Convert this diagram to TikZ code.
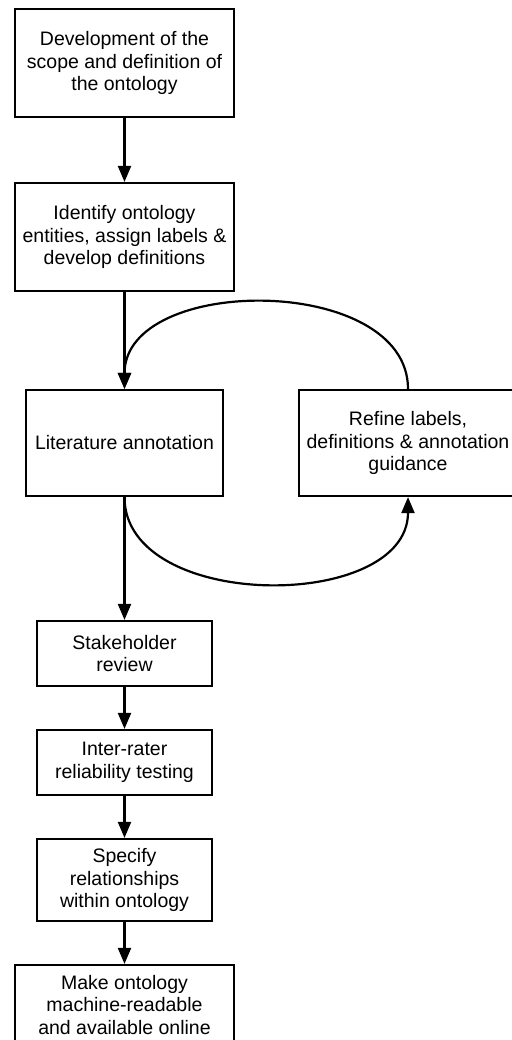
\documentclass[tikz,border=0pt]{standalone}
\usepackage{fontspec}
\setmainfont{Liberation Sans}
\usetikzlibrary{arrows.meta}
\tikzset{
	stepbox/.style={draw, line width=2.2pt, align=center, inner sep=0pt, font=\fontsize{19.5}{22.5}\selectfont},
	arr/.style={line width=2.2pt, -{Triangle[length=16pt,width=13pt]}}
}
\begin{document}
\begin{tikzpicture}[x=1pt, y=-1pt]
	\useasboundingbox (0,0) rectangle (511,1040);
	
	\coordinate (P1) at (124.5, 63);
	\coordinate (P2) at (124.5, 237);
	\coordinate (P3) at (124.5, 443);
	\coordinate (P4) at (408, 443);
	\coordinate (P5) at (124.5, 653.5);
	\coordinate (P6) at (124.5, 762.5);
	\coordinate (P7) at (124.5, 880);
	\coordinate (P8) at (124.5, 1005);
	
	\node[stepbox, minimum width=219pt, minimum height=108pt] (dev) at (P1) {Development of the\\scope and definition of\\the ontology};
	\node[stepbox, minimum width=219pt, minimum height=108pt] (ident) at (P2) {Identify ontology\\entities, assign labels \&\\develop definitions};
	\node[stepbox, minimum width=197pt, minimum height=106pt] (lit) at (P3) {Literature annotation};
	\node[stepbox, minimum width=218pt, minimum height=106pt] (refine) at (P4) {Refine labels,\\definitions \& annotation\\guidance};
	\node[stepbox, minimum width=175pt, minimum height=65pt] (stake) at (P5) {Stakeholder\\review};
	\node[stepbox, minimum width=175pt, minimum height=65pt] (irr) at (P6) {Inter-rater\\reliability testing};
	\node[stepbox, minimum width=175pt, minimum height=82pt] (spec) at (P7) {Specify\\relationships\\within ontology};
	\node[stepbox, minimum width=219pt, minimum height=80pt] (make) at (P8) {Make ontology\\machine-readable\\and available online};
	
	\draw[arr] (dev) -- (ident);
	\draw[arr] (ident) -- (lit);
	\draw[arr] (refine.north) .. controls +(0,-115) and +(0,-115) .. (lit.north);
	\draw[arr] (lit.south) .. controls +(0,115) and +(0,115) .. (refine.south);
	\draw[arr] (lit) -- (stake);
	\draw[arr] (stake) -- (irr);
	\draw[arr] (irr) -- (spec);
	\draw[arr] (spec) -- (make);
\end{tikzpicture}
\end{document}
